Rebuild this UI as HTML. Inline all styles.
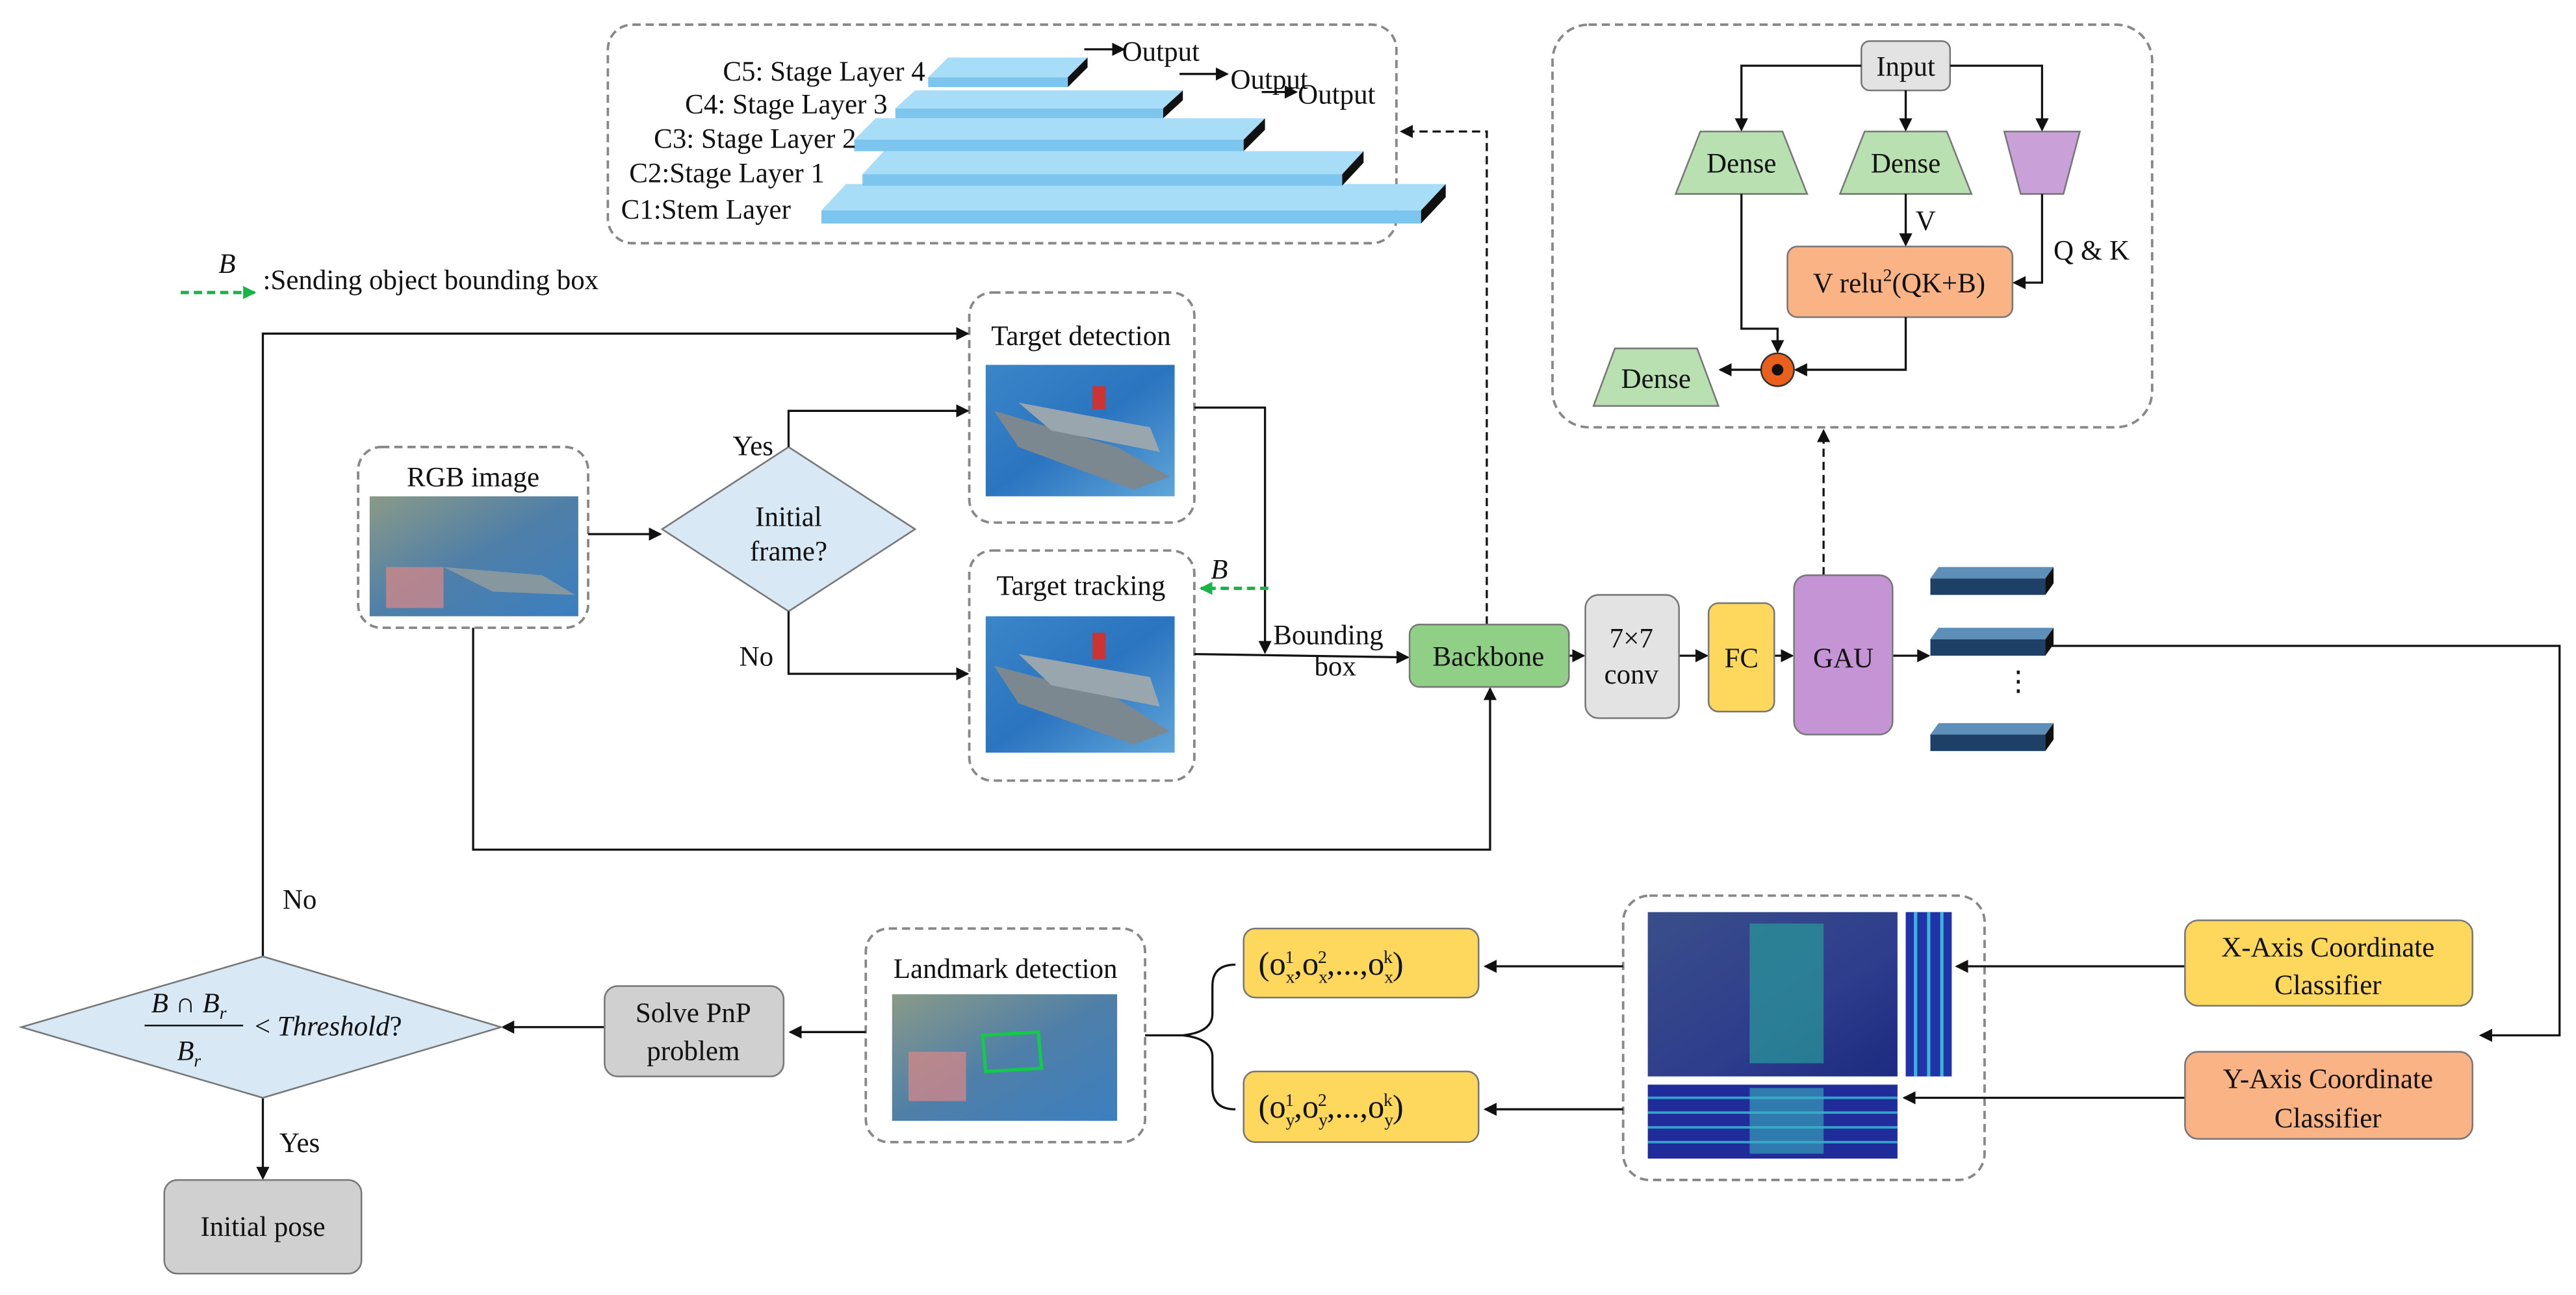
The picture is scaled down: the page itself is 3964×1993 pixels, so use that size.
<!DOCTYPE html>
<html><head><meta charset="utf-8"><style>
html,body{margin:0;padding:0;background:#fff}
svg{display:block}
text{font-family:"Liberation Serif",serif;fill:#111}
</style></head><body>
<svg width="3964" height="1993" viewBox="0 0 1568 788" preserveAspectRatio="none" xmlns="http://www.w3.org/2000/svg">
<defs>
<marker id="ar" markerWidth="8" markerHeight="8" refX="7" refY="4" orient="auto" markerUnits="userSpaceOnUse"><path d="M0,0 L8,4 L0,8 z" fill="#111"/></marker>
<marker id="ag" markerWidth="8" markerHeight="8" refX="7" refY="4" orient="auto" markerUnits="userSpaceOnUse"><path d="M0,0 L8,4 L0,8 z" fill="#19b34a"/></marker>
<linearGradient id="sea" x1="0" y1="0" x2="1" y2="1"><stop offset="0" stop-color="#3a86c8"/><stop offset="0.5" stop-color="#2b74c0"/><stop offset="1" stop-color="#5fa6d8"/></linearGradient>
<linearGradient id="city" x1="0" y1="0" x2="1" y2="1"><stop offset="0" stop-color="#8a9a88"/><stop offset="0.5" stop-color="#4f7fa8"/><stop offset="1" stop-color="#3b7fc0"/></linearGradient>
<linearGradient id="heat" x1="0" y1="0" x2="1" y2="1"><stop offset="0" stop-color="#3a4e8a"/><stop offset="0.6" stop-color="#2e3d8c"/><stop offset="1" stop-color="#1c2a80"/></linearGradient>
</defs>
<g fill="none" stroke="#888" stroke-width="1.5" stroke-dasharray="5,3">
<rect x="370" y="15" width="480" height="133" rx="15"/>
<rect x="945" y="15" width="365" height="245" rx="22"/>
<rect x="590" y="178" width="137" height="140" rx="14"/>
<rect x="590" y="335" width="137" height="140" rx="14"/>
<rect x="218" y="272" width="140" height="110" rx="14"/>
<rect x="988" y="545" width="220" height="173" rx="16"/>
<rect x="527" y="565" width="170" height="130" rx="14"/>
</g>
<g>
<polygon points="500,128 515,112 880,112 865,128" fill="#a8ddf7"/><rect x="500" y="128" width="365" height="8" fill="#7cc5ee"/><polygon points="865,128 880,112 880,120 865,136" fill="#111"/>
<polygon points="525,106 538,92 830,92 817,106" fill="#a8ddf7"/><rect x="525" y="106" width="292" height="7" fill="#7cc5ee"/><polygon points="817,106 830,92 830,99 817,113" fill="#111"/>
<polygon points="520,85 533,72 770,72 757,85" fill="#a8ddf7"/><rect x="520" y="85" width="237" height="7" fill="#7cc5ee"/><polygon points="757,85 770,72 770,79 757,92" fill="#111"/>
<polygon points="545,66 557,55 720,55 708,66" fill="#a8ddf7"/><rect x="545" y="66" width="163" height="6" fill="#7cc5ee"/><polygon points="708,66 720,55 720,61 708,72" fill="#111"/>
<polygon points="565,47 577,35 662,35 650,47" fill="#a8ddf7"/><rect x="565" y="47" width="85" height="6" fill="#7cc5ee"/><polygon points="650,47 662,35 662,41 650,53" fill="#111"/>
</g>
<g font-size="17">
<text x="440" y="49">C5: Stage Layer 4</text>
<text x="417" y="69">C4: Stage Layer 3</text>
<text x="398" y="90">C3: Stage Layer 2</text>
<text x="383" y="111">C2:Stage Layer 1</text>
<text x="378" y="133">C1:Stem Layer</text>
<text x="683" y="37">Output</text>
<text x="749" y="54">Output</text>
<text x="790" y="63">Output</text>
</g>
<g stroke="#111" stroke-width="1.3" fill="none" marker-end="url(#ar)">
<line x1="660" y1="30" x2="684" y2="30"/>
<line x1="718" y1="45" x2="747" y2="45"/>
<line x1="768" y1="56" x2="789" y2="56"/>
</g>
<path d="M905,380 V80 H853" fill="none" stroke="#111" stroke-width="1.3" stroke-dasharray="5,3" marker-end="url(#ar)"/>
<path d="M1110,350 V262" fill="none" stroke="#111" stroke-width="1.3" stroke-dasharray="5,3" marker-end="url(#ar)"/>
<line x1="110" y1="178" x2="155" y2="178" stroke="#19b34a" stroke-width="2" stroke-dasharray="5,3" marker-end="url(#ag)"/>
<text x="133" y="166" font-size="17" font-style="italic">B</text>
<text x="160" y="176" font-size="17">:Sending object bounding box</text>
<rect x="1133" y="25" width="54" height="30" rx="5" fill="#e3e3e3" stroke="#777"/>
<text x="1160" y="46" font-size="17" text-anchor="middle">Input</text>
<polygon points="1035,80 1085,80 1100,118 1020,118" fill="#b8e0b0" stroke="#777"/>
<text x="1060" y="105" font-size="17" text-anchor="middle">Dense</text>
<polygon points="1135,80 1185,80 1200,118 1120,118" fill="#b8e0b0" stroke="#777"/>
<text x="1160" y="105" font-size="17" text-anchor="middle">Dense</text>
<polygon points="1220,80 1266,80 1256,118 1230,118" fill="#c9a0d8" stroke="#777"/>
<rect x="1088" y="150" width="137" height="43" rx="6" fill="#f9b384" stroke="#777"/>
<text x="1156" y="178" font-size="17" text-anchor="middle">V relu<tspan font-size="11" dy="-7">2</tspan><tspan dy="7">(QK+B)</tspan></text>
<polygon points="983,212 1033,212 1046,247 970,247" fill="#b8e0b0" stroke="#777"/>
<text x="1008" y="236" font-size="17" text-anchor="middle">Dense</text>
<circle cx="1082" cy="225" r="10" fill="#e8601c" stroke="#333"/><circle cx="1082" cy="225" r="3.5" fill="#111"/>
<g stroke="#111" stroke-width="1.3" fill="none" marker-end="url(#ar)">
<path d="M1133,40 H1060 V79"/>
<path d="M1160,55 V79"/>
<path d="M1187,40 H1243 V79"/>
<path d="M1160,118 V149"/>
<path d="M1243,118 V172 H1226"/>
<path d="M1060,118 V200 H1082 V214"/>
<path d="M1160,193 V225 H1093"/>
<path d="M1072,225 H1047"/>
</g>
<text x="1166" y="140" font-size="17">V</text>
<text x="1250" y="158" font-size="17">Q &amp; K</text>
<g>
<rect x="600" y="222" width="115" height="80" fill="url(#sea)"/>
<polygon points="605,250 680,272 712,290 690,298 620,272" fill="#7b8890"/><polygon points="620,245 700,260 706,275 640,262" fill="#9aa6ae"/><rect x="665" y="235" width="8" height="14" fill="#c33"/>
<rect x="600" y="375" width="115" height="83" fill="url(#sea)"/>
<polygon points="605,405 680,425 712,445 690,453 620,428" fill="#7b8890"/><polygon points="620,398 700,412 706,430 640,417" fill="#9aa6ae"/><rect x="665" y="385" width="8" height="16" fill="#c33"/>
<rect x="225" y="302" width="127" height="73" fill="url(#city)"/>
<polygon points="270,345 330,350 350,362 300,360" fill="#8797a0"/><rect x="235" y="345" width="35" height="25" fill="#d88" opacity="0.7"/>
<rect x="543" y="605" width="137" height="77" fill="url(#city)"/>
<rect x="553" y="640" width="35" height="30" fill="#d88" opacity="0.7"/><polygon points="598,630 632,628 634,650 600,652" fill="none" stroke="#1c4" stroke-width="2"/>
<rect x="1003" y="555" width="152" height="100" fill="url(#heat)"/>
<rect x="1065" y="562" width="45" height="85" fill="#2a9a9a" opacity="0.7"/>
<rect x="1160" y="555" width="28" height="100" fill="#2233aa"/>
<g stroke="#3fd8e0" stroke-width="2" opacity="0.8"><line x1="1166" y1="555" x2="1166" y2="655"/><line x1="1174" y1="555" x2="1174" y2="655"/><line x1="1182" y1="555" x2="1182" y2="655"/></g>
<rect x="1003" y="660" width="152" height="45" fill="#1f2c9a"/>
<g stroke="#3fd8e0" stroke-width="1.5" opacity="0.7"><line x1="1003" y1="668" x2="1155" y2="668"/><line x1="1003" y1="677" x2="1155" y2="677"/><line x1="1003" y1="686" x2="1155" y2="686"/><line x1="1003" y1="695" x2="1155" y2="695"/></g>
<rect x="1065" y="662" width="45" height="40" fill="#3ab0c0" opacity="0.6"/>
</g>
<g font-size="17" text-anchor="middle">
<text x="658" y="210">Target detection</text>
<text x="658" y="362">Target tracking</text>
<text x="288" y="296">RGB image</text>
<text x="612" y="595">Landmark detection</text>
</g>
<polygon points="480,272 557,322 480,372 403,322" fill="#d8e8f5" stroke="#777"/>
<text x="480" y="320" font-size="17" text-anchor="middle">Initial</text>
<text x="480" y="341" font-size="17" text-anchor="middle">frame?</text>
<text x="446" y="277" font-size="17">Yes</text>
<text x="450" y="405" font-size="17">No</text>
<g stroke="#111" stroke-width="1.3" fill="none" marker-end="url(#ar)">
<path d="M358,325 H402"/>
<path d="M480,272 V250 H589"/>
<path d="M480,372 V410 H589"/>
<path d="M160,582 V203 H589"/>
<path d="M727,248 H770 V397"/>
<path d="M727,398 L857,400"/>
<path d="M955,399 H964"/>
<path d="M1022,399 H1039"/>
<path d="M1080,399 H1091"/>
<path d="M1152,399 H1174"/>
<path d="M1245,393 H1558 V630 H1510"/>
<path d="M288,382 V517 H907 V419"/>
<path d="M1330,588 H1191"/>
<path d="M1330,668 H1159"/>
<path d="M988,588 H904"/>
<path d="M988,675 H904"/>
<path d="M527,628 H481"/>
<path d="M368,625 H306"/>
<path d="M160,668 V717"/>
</g>
<line x1="772" y1="358" x2="731" y2="358" stroke="#19b34a" stroke-width="2" stroke-dasharray="5,3" marker-end="url(#ag)"/>
<text x="737" y="352" font-size="17" font-style="italic">B</text>
<text x="775" y="392" font-size="17">Bounding</text>
<text x="800" y="411" font-size="17">box</text>
<rect x="858" y="380" width="97" height="38" rx="6" fill="#8fcf86" stroke="#777"/>
<text x="906" y="405" font-size="17" text-anchor="middle">Backbone</text>
<rect x="965" y="362" width="57" height="75" rx="8" fill="#e3e3e3" stroke="#777"/>
<text x="993" y="394" font-size="17" text-anchor="middle">7×7</text>
<text x="993" y="416" font-size="17" text-anchor="middle">conv</text>
<rect x="1040" y="367" width="40" height="66" rx="6" fill="#fdd85d" stroke="#777"/>
<text x="1060" y="406" font-size="17" text-anchor="middle">FC</text>
<rect x="1092" y="350" width="60" height="97" rx="8" fill="#c594d4" stroke="#777"/>
<text x="1122" y="406" font-size="17" text-anchor="middle">GAU</text>
<g>
<polygon points="1175,352 1180,345 1250,345 1245,352" fill="#5d8fb8"/><rect x="1175" y="352" width="70" height="10" fill="#1e3f66"/><polygon points="1245,352 1250,345 1250,355 1245,362" fill="#111"/>
<polygon points="1175,389 1180,382 1250,382 1245,389" fill="#5d8fb8"/><rect x="1175" y="389" width="70" height="10" fill="#1e3f66"/><polygon points="1245,389 1250,382 1250,392 1245,399" fill="#111"/>
<polygon points="1175,447 1180,440 1250,440 1245,447" fill="#5d8fb8"/><rect x="1175" y="447" width="70" height="10" fill="#1e3f66"/><polygon points="1245,447 1250,440 1250,450 1245,457" fill="#111"/>
<text x="1220" y="420" font-size="17">⋮</text>
</g>
<rect x="1330" y="560" width="175" height="52" rx="8" fill="#fdd85d" stroke="#777"/>
<text x="1417" y="582" font-size="17" text-anchor="middle">X-Axis Coordinate</text>
<text x="1417" y="605" font-size="17" text-anchor="middle">Classifier</text>
<rect x="1330" y="640" width="175" height="53" rx="8" fill="#f9b384" stroke="#777"/>
<text x="1417" y="662" font-size="17" text-anchor="middle">Y-Axis Coordinate</text>
<text x="1417" y="686" font-size="17" text-anchor="middle">Classifier</text>
<rect x="757" y="565" width="143" height="42" rx="7" fill="#fdd85d" stroke="#777"/>
<text x="766" y="593" font-size="20">(o<tspan font-size="11" dy="5">x</tspan><tspan font-size="11" dx="-6" dy="-12">1</tspan><tspan dy="7">,o</tspan><tspan font-size="11" dy="5">x</tspan><tspan font-size="11" dx="-6" dy="-12">2</tspan><tspan dy="7">,...,o</tspan><tspan font-size="11" dy="5">x</tspan><tspan font-size="11" dx="-6" dy="-12">k</tspan><tspan dy="7">)</tspan></text>
<rect x="757" y="652" width="143" height="43" rx="7" fill="#fdd85d" stroke="#777"/>
<text x="766" y="680" font-size="20">(o<tspan font-size="11" dy="5">y</tspan><tspan font-size="11" dx="-6" dy="-12">1</tspan><tspan dy="7">,o</tspan><tspan font-size="11" dy="5">y</tspan><tspan font-size="11" dx="-6" dy="-12">2</tspan><tspan dy="7">,...,o</tspan><tspan font-size="11" dy="5">y</tspan><tspan font-size="11" dx="-6" dy="-12">k</tspan><tspan dy="7">)</tspan></text>
<path d="M752,587 Q738,587 738,600 V617 Q738,628 720,630 Q738,632 738,643 V662 Q738,675 752,675" fill="none" stroke="#111" stroke-width="1.3"/>
<path d="M697,630 H720" stroke="#111" stroke-width="1.3"/>
<rect x="368" y="600" width="109" height="55" rx="8" fill="#d0d0d0" stroke="#777"/>
<text x="422" y="622" font-size="17" text-anchor="middle">Solve PnP</text>
<text x="422" y="645" font-size="17" text-anchor="middle">problem</text>
<polygon points="160,582 305,625 160,668 13,625" fill="#d8e8f5" stroke="#777"/>
<text x="115" y="616" font-size="17" font-style="italic" text-anchor="middle">B ∩ B<tspan font-size="11" dy="4">r</tspan></text>
<line x1="88" y1="624" x2="148" y2="624" stroke="#111" stroke-width="1"/>
<text x="115" y="645" font-size="17" font-style="italic" text-anchor="middle">B<tspan font-size="11" dy="4">r</tspan></text>
<text x="155" y="630" font-size="17"><tspan>&lt; </tspan><tspan font-style="italic">Threshold</tspan>?</text>
<text x="172" y="553" font-size="17">No</text>
<text x="170" y="701" font-size="17">Yes</text>
<rect x="100" y="718" width="120" height="57" rx="8" fill="#d0d0d0" stroke="#777"/>
<text x="160" y="752" font-size="17" text-anchor="middle">Initial pose</text>
</svg>
</body></html>
